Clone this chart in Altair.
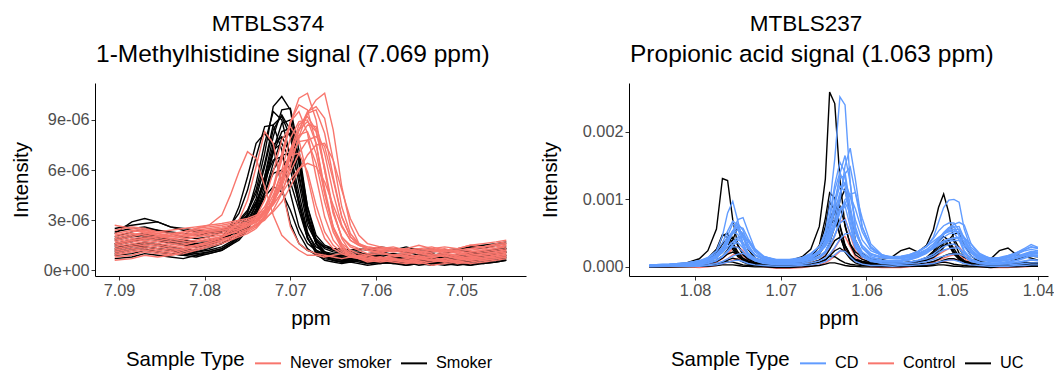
import altair as alt
import pandas as pd

FONT = "Liberation Sans"
RED = "#F8766D"
BLUE = "#619CFF"
BLACK = "#000000"

# ---------------- MTBLS374 : 1-Methylhistidine (intensity in units of 1e-6) ----------------
LEFT_UNIT = 1e-6
ppm_left = [7.0905, 7.0885, 7.0870, 7.0855, 7.0840, 7.0825, 7.0810, 7.0795, 7.0780, 7.0770,
            7.0760, 7.0750, 7.0740, 7.0730, 7.0720, 7.0710, 7.0700, 7.0690, 7.0680, 7.0670,
            7.0660, 7.0650, 7.0640, 7.0630, 7.0620, 7.0610, 7.0595, 7.0580, 7.0565, 7.0550,
            7.0535, 7.0520, 7.0505, 7.0490, 7.0475, 7.0460, 7.0448]

smoker_01 = [2.2, 2.9, 3.1, 2.9, 2.6, 2.4, 2.3, 2.2, 2.3, 2.6, 3.0, 3.6, 4.8, 7.0, 9.8, 10.4, 9.6, 6.5, 3.2, 1.9, 1.4, 1.2, 1.1, 1.0, 1.1, 0.9, 1.0, 1.2, 1.1, 0.9, 1.0, 0.8, 0.9, 1.0, 1.1, 1.3, 1.4]
smoker_02 = [1.6, 1.8, 2.0, 1.9, 1.7, 1.6, 1.5, 1.7, 2.0, 2.6, 3.8, 5.6, 7.6, 8.2, 7.4, 5.0, 2.8, 1.6, 1.2, 1.0, 0.9, 0.8, 0.8, 0.7, 0.9, 0.8, 0.7, 0.8, 0.6, 0.7, 0.8, 0.6, 0.7, 0.9, 0.8, 1.0, 1.1]
smoker_03 = [1.2, 1.4, 1.6, 1.5, 1.3, 1.2, 1.1, 1.3, 1.6, 1.9, 2.4, 3.4, 5.2, 7.6, 9.5, 9.0, 6.8, 3.9, 1.9, 1.2, 0.9, 0.7, 0.6, 0.6, 0.7, 0.5, 0.6, 0.7, 0.5, 0.6, 0.5, 0.4, 0.5, 0.6, 0.4, 0.5, 0.6]
smoker_04 = [2.5, 2.7, 2.8, 2.9, 2.6, 2.5, 2.4, 2.3, 2.4, 2.6, 2.9, 3.5, 4.6, 6.4, 8.7, 9.2, 8.0, 5.2, 2.7, 1.7, 1.4, 1.3, 1.3, 1.2, 1.3, 1.2, 1.4, 1.3, 1.2, 1.3, 1.1, 1.2, 1.3, 1.4, 1.3, 1.5, 1.6]
smoker_05 = [0.9, 1.0, 1.2, 1.1, 1.0, 0.9, 1.1, 1.2, 1.4, 1.7, 2.1, 2.8, 3.9, 5.6, 7.5, 8.0, 7.0, 4.6, 2.3, 1.2, 0.8, 0.6, 0.5, 0.5, 0.6, 0.4, 0.5, 0.4, 0.5, 0.3, 0.4, 0.5, 0.4, 0.3, 0.5, 0.6, 0.7]
smoker_06 = [1.8, 2.0, 2.1, 2.0, 1.8, 1.7, 1.6, 1.7, 1.9, 2.1, 2.4, 2.8, 3.5, 4.6, 6.0, 6.9, 7.0, 5.6, 3.2, 1.8, 1.3, 1.1, 1.0, 1.0, 0.9, 1.0, 1.1, 0.9, 1.0, 1.1, 0.9, 1.0, 1.2, 1.1, 1.0, 1.2, 1.3]
smoker_07 = [1.4, 1.5, 1.4, 1.3, 1.2, 1.0, 0.9, 1.1, 1.3, 1.6, 2.0, 2.6, 3.5, 4.7, 5.8, 6.0, 5.3, 3.6, 1.9, 1.1, 0.8, 0.7, 0.6, 0.7, 0.6, 0.5, 0.6, 0.5, 0.4, 0.5, 0.6, 0.5, 0.6, 0.5, 0.7, 0.8, 0.9]
smoker_08 = [2.0, 2.3, 2.5, 2.4, 2.2, 2.0, 1.9, 2.0, 2.3, 2.7, 3.4, 4.8, 6.8, 8.6, 8.7, 7.2, 4.6, 2.6, 1.6, 1.2, 1.0, 0.9, 0.9, 0.8, 1.0, 0.9, 0.8, 1.0, 0.9, 0.8, 0.9, 1.0, 0.8, 0.9, 1.1, 1.2, 1.3]
smoker_09 = [1.5, 1.7, 1.9, 1.8, 1.6, 1.5, 1.4, 1.5, 1.8, 2.1, 2.5, 3.0, 3.9, 5.6, 8.0, 9.6, 9.7, 7.2, 3.8, 1.8, 1.1, 0.8, 0.7, 0.7, 0.8, 0.7, 0.6, 0.8, 0.7, 0.6, 0.7, 0.8, 0.6, 0.7, 0.9, 1.0, 1.1]
smoker_10 = [1.0, 1.2, 1.3, 1.1, 1.0, 0.9, 0.8, 1.0, 1.2, 1.5, 1.8, 2.4, 3.3, 4.4, 5.0, 4.7, 3.6, 2.2, 1.3, 0.9, 0.7, 0.6, 0.5, 0.6, 0.5, 0.4, 0.5, 0.4, 0.3, 0.4, 0.5, 0.4, 0.3, 0.4, 0.5, 0.6, 0.8]
smoker_11 = [2.3, 2.5, 2.6, 2.4, 2.3, 2.2, 2.1, 2.2, 2.4, 2.6, 2.9, 3.3, 4.0, 5.2, 7.0, 8.3, 8.5, 6.8, 3.8, 2.1, 1.5, 1.3, 1.2, 1.1, 1.2, 1.3, 1.1, 1.2, 1.4, 1.2, 1.3, 1.1, 1.2, 1.4, 1.5, 1.6, 1.7]
smoker_12 = [0.7, 0.8, 1.0, 0.9, 0.8, 0.7, 0.9, 1.0, 1.2, 1.5, 1.9, 2.6, 3.7, 5.4, 7.2, 7.6, 6.6, 4.2, 2.0, 1.0, 0.6, 0.5, 0.4, 0.5, 0.4, 0.3, 0.4, 0.5, 0.3, 0.4, 0.3, 0.5, 0.4, 0.3, 0.4, 0.5, 0.6]
smoker_13 = [1.3, 1.5, 1.7, 1.6, 1.4, 1.3, 1.2, 1.4, 1.6, 1.9, 2.3, 2.8, 3.6, 5.0, 7.2, 8.8, 9.0, 6.6, 3.4, 1.6, 1.0, 0.8, 0.7, 0.6, 0.7, 0.6, 0.7, 0.5, 0.6, 0.7, 0.5, 0.6, 0.7, 0.8, 0.7, 0.8, 0.9]
smoker_14 = [1.9, 2.1, 2.2, 2.0, 1.9, 1.8, 1.7, 1.8, 2.0, 2.3, 2.7, 3.2, 4.1, 5.4, 6.6, 6.8, 6.0, 4.0, 2.2, 1.4, 1.1, 1.0, 0.9, 0.9, 1.0, 0.8, 0.9, 1.0, 0.8, 0.9, 1.0, 0.8, 0.9, 1.0, 1.1, 1.2, 1.3]
smoker_15 = [1.6, 1.8, 2.0, 1.9, 1.7, 1.6, 1.5, 1.6, 1.9, 2.2, 2.6, 3.2, 4.3, 6.2, 8.4, 9.3, 8.4, 5.8, 3.0, 1.6, 1.1, 0.9, 0.8, 0.8, 0.9, 0.8, 0.7, 0.8, 0.7, 0.8, 0.7, 0.6, 0.7, 0.8, 0.9, 1.0, 1.1]
smoker_16 = [1.1, 1.3, 1.4, 1.3, 1.2, 1.1, 1.0, 1.1, 1.3, 1.6, 2.0, 2.5, 3.3, 4.6, 6.4, 7.9, 8.2, 6.4, 3.4, 1.6, 0.9, 0.6, 0.5, 0.5, 0.6, 0.5, 0.4, 0.5, 0.4, 0.5, 0.4, 0.3, 0.4, 0.5, 0.6, 0.7, 0.8]

never_01 = [1.9, 2.1, 2.3, 2.2, 2.0, 2.1, 2.3, 2.4, 2.5, 2.6, 2.7, 2.9, 3.2, 3.8, 4.9, 6.6, 8.8, 10.3, 10.6, 9.0, 6.0, 3.4, 2.0, 1.5, 1.3, 1.2, 1.1, 1.2, 1.0, 1.1, 1.2, 1.0, 0.9, 1.1, 1.2, 1.3, 1.4]
never_02 = [1.5, 1.7, 1.8, 1.7, 1.6, 1.7, 1.8, 2.0, 2.1, 2.2, 2.3, 2.5, 2.7, 3.0, 3.6, 4.6, 6.2, 8.0, 9.4, 10.2, 10.6, 8.4, 5.0, 2.7, 1.6, 1.2, 1.0, 0.9, 1.0, 0.8, 0.9, 1.0, 0.8, 0.9, 1.0, 1.1, 1.2]
never_03 = [1.2, 1.4, 1.5, 1.4, 1.3, 1.4, 1.5, 1.7, 1.9, 2.0, 2.2, 2.4, 2.8, 3.6, 5.0, 7.0, 8.9, 9.5, 8.2, 5.6, 3.2, 1.8, 1.2, 0.9, 0.8, 0.7, 0.8, 0.6, 0.7, 0.8, 0.6, 0.7, 0.8, 0.6, 0.7, 0.8, 0.9]
never_04 = [2.4, 2.6, 2.5, 2.3, 2.2, 2.3, 2.5, 2.6, 2.7, 2.8, 2.9, 3.0, 3.2, 3.5, 4.1, 5.0, 6.4, 7.9, 8.7, 8.6, 7.0, 4.6, 2.7, 1.8, 1.5, 1.4, 1.3, 1.4, 1.2, 1.3, 1.4, 1.2, 1.3, 1.5, 1.4, 1.6, 1.7]
never_05 = [0.8, 0.9, 1.1, 1.0, 0.9, 1.0, 1.2, 1.4, 1.6, 1.8, 2.0, 2.2, 2.5, 3.1, 4.0, 5.3, 6.8, 7.7, 7.8, 6.4, 4.1, 2.3, 1.3, 0.9, 0.7, 0.6, 0.5, 0.6, 0.5, 0.4, 0.5, 0.6, 0.4, 0.5, 0.6, 0.7, 0.8]
never_06 = [1.8, 2.0, 2.2, 2.1, 1.9, 2.0, 2.1, 2.3, 2.4, 2.5, 2.6, 2.8, 3.0, 3.4, 4.1, 5.2, 6.8, 8.4, 9.5, 9.8, 9.1, 6.6, 3.8, 2.2, 1.6, 1.3, 1.2, 1.1, 1.2, 1.0, 1.1, 1.2, 1.0, 1.1, 1.2, 1.3, 1.5]
never_07 = [1.4, 1.6, 1.7, 1.6, 1.5, 1.6, 1.7, 1.9, 2.0, 2.2, 2.4, 2.6, 2.9, 3.5, 4.5, 5.9, 6.9, 7.0, 5.9, 3.9, 2.3, 1.5, 1.1, 0.9, 0.8, 0.9, 0.7, 0.8, 0.9, 0.7, 0.8, 0.9, 0.7, 0.8, 0.9, 1.0, 1.1]
never_08 = [1.6, 1.8, 1.9, 2.0, 2.1, 2.3, 2.5, 2.7, 3.3, 4.5, 5.9, 7.1, 6.7, 5.0, 3.3, 2.1, 1.6, 1.2, 0.9, 0.9, 0.8, 0.9, 1.0, 0.8, 0.9, 0.8, 0.7, 0.9, 0.8, 0.7, 0.8, 0.9, 0.7, 0.8, 0.9, 1.0, 1.1]
never_09 = [1.1, 1.3, 1.4, 1.3, 1.2, 1.3, 1.5, 1.7, 2.0, 2.4, 3.0, 4.2, 6.2, 8.3, 7.6, 5.0, 2.6, 1.6, 1.2, 1.0, 0.9, 0.8, 0.7, 0.8, 0.7, 0.6, 0.7, 0.6, 0.5, 0.7, 0.6, 0.5, 0.6, 0.7, 0.6, 0.7, 0.8]
never_10 = [2.7, 2.5, 2.4, 2.3, 2.4, 2.5, 2.6, 2.7, 2.8, 2.9, 3.0, 3.1, 3.3, 3.6, 4.0, 4.6, 5.4, 6.1, 6.4, 6.2, 5.3, 3.9, 2.6, 1.8, 1.5, 1.3, 1.4, 1.2, 1.3, 1.5, 1.3, 1.4, 1.3, 1.5, 1.6, 1.7, 1.8]
never_11 = [0.6, 0.7, 0.9, 0.8, 0.9, 1.1, 1.3, 1.5, 1.7, 1.9, 2.1, 2.3, 2.6, 3.2, 4.3, 6.0, 7.9, 8.9, 9.0, 7.6, 4.9, 2.6, 1.4, 0.9, 0.7, 0.5, 0.6, 0.5, 0.4, 0.5, 0.3, 0.4, 0.5, 0.4, 0.5, 0.6, 0.7]
never_12 = [2.1, 2.3, 2.4, 2.2, 2.1, 2.2, 2.4, 2.5, 2.6, 2.7, 2.8, 2.9, 3.1, 3.4, 3.9, 4.7, 5.9, 7.0, 7.8, 8.0, 7.4, 5.4, 3.2, 2.0, 1.5, 1.3, 1.2, 1.3, 1.1, 1.2, 1.3, 1.1, 1.2, 1.3, 1.4, 1.5, 1.6]
never_13 = [1.3, 1.5, 1.6, 1.5, 1.4, 1.5, 1.7, 1.8, 2.0, 2.2, 2.4, 2.7, 3.2, 4.2, 5.9, 7.8, 8.6, 7.8, 5.6, 3.3, 1.9, 1.3, 1.0, 0.9, 0.8, 0.7, 0.8, 0.7, 0.6, 0.7, 0.8, 0.6, 0.7, 0.8, 0.7, 0.9, 1.0]
never_14 = [1.7, 1.9, 2.0, 1.9, 1.8, 1.9, 2.0, 2.2, 2.3, 2.4, 2.5, 2.7, 2.9, 3.3, 4.1, 5.4, 7.2, 8.7, 9.2, 8.4, 6.0, 3.5, 2.0, 1.4, 1.2, 1.0, 1.1, 0.9, 1.0, 1.1, 0.9, 1.0, 1.1, 0.9, 1.0, 1.1, 1.2]
never_15 = [2.2, 2.4, 2.3, 2.1, 2.0, 2.1, 2.2, 2.4, 2.5, 2.6, 2.7, 2.8, 3.0, 3.4, 4.1, 5.2, 6.8, 8.4, 9.4, 9.6, 8.2, 5.6, 3.2, 2.0, 1.6, 1.4, 1.3, 1.2, 1.3, 1.1, 1.2, 1.3, 1.1, 1.2, 1.3, 1.4, 1.5]
never_16 = [1.0, 1.2, 1.3, 1.2, 1.1, 1.3, 1.5, 1.6, 1.8, 2.0, 2.2, 2.4, 2.7, 3.2, 4.2, 5.6, 7.2, 8.1, 8.3, 7.0, 4.6, 2.5, 1.5, 1.0, 0.8, 0.7, 0.6, 0.7, 0.6, 0.5, 0.6, 0.7, 0.5, 0.6, 0.7, 0.8, 0.9]
never_17 = [1.6, 1.8, 1.9, 1.8, 1.7, 1.8, 2.0, 2.1, 2.2, 2.3, 2.5, 2.7, 3.0, 3.6, 4.8, 6.8, 8.9, 9.9, 9.6, 7.6, 4.6, 2.6, 1.6, 1.2, 1.0, 0.9, 1.0, 0.9, 0.8, 0.9, 1.0, 0.8, 0.9, 1.0, 1.1, 1.2, 1.3]
never_18 = [2.0, 2.2, 2.1, 2.0, 1.9, 2.0, 2.2, 2.3, 2.4, 2.5, 2.6, 2.7, 2.9, 3.1, 3.5, 4.1, 5.0, 6.0, 6.9, 7.5, 7.6, 6.6, 4.8, 3.1, 2.1, 1.6, 1.4, 1.3, 1.2, 1.3, 1.2, 1.1, 1.2, 1.3, 1.4, 1.5, 1.6]
never_19 = [0.9, 1.1, 1.2, 1.1, 1.0, 1.2, 1.4, 1.6, 1.8, 2.0, 2.2, 2.4, 2.7, 3.2, 4.0, 5.3, 7.0, 8.4, 8.9, 8.3, 6.2, 3.6, 1.9, 1.1, 0.8, 0.7, 0.6, 0.7, 0.5, 0.6, 0.7, 0.5, 0.6, 0.7, 0.8, 0.9, 1.0]

# ---------------- MTBLS237 : Propionic acid (intensity in units of 1e-4) ----------------
RIGHT_UNIT = 1e-4
ppm_right = [1.0853, 1.0830, 1.0810, 1.0795, 1.0785, 1.0775, 1.0768, 1.0762, 1.0756, 1.0750,
             1.0744, 1.0738, 1.0730, 1.0720, 1.0705, 1.0690, 1.0675, 1.0665, 1.0655, 1.0648,
             1.0643, 1.0637, 1.0631, 1.0625, 1.0619, 1.0613, 1.0605, 1.0595, 1.0582, 1.0570,
             1.0560, 1.0550, 1.0540, 1.0530, 1.0522, 1.0516, 1.0510, 1.0504, 1.0498, 1.0492,
             1.0486, 1.0478, 1.0468, 1.0455, 1.0445, 1.0435, 1.0425, 1.0415, 1.0408, 1.0400]

uc_01 = [0.1, 0.3, 0.6, 1.2, 2.4, 5.6, 13.1, 12.8, 7.0, 3.2, 1.9, 1.3, 0.9, 0.7, 0.7, 0.9, 1.5, 2.6, 6.0, 13.0, 25.9, 24.2, 13.0, 6.0, 3.4, 2.2, 1.5, 1.2, 1.1, 1.5, 2.4, 2.8, 2.2, 3.2, 5.5, 8.8, 10.8, 8.0, 3.8, 2.0, 1.4, 1.1, 0.9, 1.2, 2.4, 2.8, 1.8, 1.5, 1.6, 1.5]
uc_02 = [0.1, 0.2, 0.3, 0.6, 1.0, 2.2, 4.6, 5.0, 3.4, 1.8, 1.1, 0.8, 0.6, 0.5, 0.5, 0.6, 0.9, 1.5, 3.2, 7.2, 11.0, 10.2, 6.0, 3.0, 1.7, 1.1, 0.8, 0.6, 0.5, 0.5, 0.6, 0.7, 0.9, 1.4, 2.3, 3.8, 4.5, 3.9, 2.3, 1.3, 0.8, 0.6, 0.4, 0.4, 0.4, 0.5, 0.5, 0.5, 0.6, 0.6]
uc_03 = [0.1, 0.1, 0.3, 0.5, 0.8, 1.4, 2.4, 3.8, 4.4, 3.2, 1.8, 1.1, 0.7, 0.5, 0.4, 0.5, 0.7, 1.1, 1.9, 3.3, 5.6, 8.2, 9.0, 6.2, 3.3, 1.8, 1.1, 0.7, 0.5, 0.5, 0.5, 0.6, 0.7, 1.0, 1.5, 2.4, 3.5, 4.1, 4.2, 2.8, 1.5, 0.9, 0.6, 0.4, 0.4, 0.4, 0.5, 0.6, 0.6, 0.6]
uc_04 = [0.1, 0.1, 0.2, 0.4, 0.6, 1.0, 1.6, 2.5, 4.0, 5.9, 4.6, 2.6, 1.3, 0.8, 0.5, 0.5, 0.6, 0.9, 1.4, 2.2, 3.6, 6.0, 9.8, 11.5, 8.0, 4.0, 2.0, 1.1, 0.7, 0.6, 0.6, 0.7, 0.8, 1.0, 1.4, 2.0, 2.9, 4.0, 4.9, 5.0, 3.2, 1.6, 0.8, 0.5, 0.4, 0.4, 0.4, 0.5, 0.5, 0.5]
uc_05 = [0.0, 0.1, 0.1, 0.2, 0.3, 0.5, 0.7, 0.8, 0.7, 0.5, 0.3, 0.2, 0.2, 0.1, 0.1, 0.2, 0.3, 0.4, 0.7, 1.1, 1.6, 1.5, 1.0, 0.6, 0.4, 0.3, 0.2, 0.2, 0.1, 0.1, 0.2, 0.2, 0.2, 0.3, 0.4, 0.6, 0.7, 0.6, 0.4, 0.3, 0.2, 0.1, 0.1, 0.1, 0.1, 0.1, 0.1, 0.1, 0.2, 0.2]
uc_06 = [0.1, 0.2, 0.3, 0.5, 0.9, 1.7, 2.8, 3.5, 2.9, 1.7, 1.0, 0.7, 0.5, 0.4, 0.4, 0.5, 0.7, 1.2, 2.2, 4.0, 6.2, 7.0, 4.8, 2.4, 1.4, 0.9, 0.6, 0.5, 0.4, 0.4, 0.5, 0.5, 0.7, 1.0, 1.6, 2.5, 3.2, 3.3, 2.2, 1.2, 0.7, 0.5, 0.3, 0.3, 0.3, 0.3, 0.4, 0.4, 0.4, 0.4]
uc_07 = [0.0, 0.0, 0.0, 0.1, 0.1, 0.2, 0.3, 0.3, 0.3, 0.2, 0.1, 0.1, 0.0, 0.0, -0.1, -0.1, 0.0, 0.1, 0.2, 0.4, 0.6, 0.6, 0.4, 0.2, 0.1, 0.1, 0.0, 0.0, 0.0, 0.0, 0.0, 0.1, 0.1, 0.1, 0.2, 0.3, 0.3, 0.2, 0.1, 0.1, 0.0, 0.0, 0.0, -0.1, 0.0, 0.0, 0.0, 0.1, 0.1, 0.1]
uc_08 = [0.1, 0.2, 0.4, 0.7, 1.3, 2.6, 4.8, 4.3, 2.6, 1.5, 1.0, 0.7, 0.5, 0.4, 0.4, 0.5, 0.8, 1.4, 3.0, 6.0, 9.6, 8.4, 4.6, 2.4, 1.4, 1.0, 0.7, 0.6, 0.5, 0.5, 0.6, 0.7, 0.9, 1.3, 2.1, 3.3, 4.0, 3.2, 1.9, 1.1, 0.7, 0.5, 0.4, 0.4, 0.5, 0.7, 1.1, 1.5, 1.3, 1.0]
uc_09 = [0.0, 0.1, 0.2, 0.3, 0.5, 0.8, 1.3, 1.9, 2.2, 1.8, 1.1, 0.7, 0.4, 0.3, 0.2, 0.3, 0.4, 0.6, 1.0, 1.6, 2.6, 3.9, 4.4, 3.2, 1.8, 1.0, 0.6, 0.4, 0.3, 0.3, 0.3, 0.4, 0.4, 0.6, 0.8, 1.1, 1.6, 1.9, 2.0, 1.5, 0.9, 0.5, 0.3, 0.2, 0.2, 0.2, 0.3, 0.3, 0.3, 0.3]
uc_10 = [0.1, 0.2, 0.4, 0.6, 1.1, 2.0, 3.4, 4.2, 3.6, 2.2, 1.3, 0.9, 0.6, 0.5, 0.4, 0.5, 0.7, 1.2, 2.3, 4.4, 7.2, 8.6, 6.2, 3.2, 1.8, 1.1, 0.8, 0.6, 0.5, 0.5, 0.5, 0.6, 0.8, 1.1, 1.8, 2.9, 3.7, 3.9, 2.7, 1.5, 0.9, 0.6, 0.4, 0.4, 0.4, 0.5, 0.6, 0.6, 0.6, 0.6]
uc_11 = [0.0, 0.0, 0.1, 0.1, 0.2, 0.4, 0.7, 1.0, 1.3, 1.1, 0.7, 0.4, 0.2, 0.1, 0.1, 0.1, 0.2, 0.3, 0.6, 1.0, 1.6, 2.4, 2.8, 2.2, 1.2, 0.6, 0.3, 0.2, 0.1, 0.1, 0.1, 0.2, 0.2, 0.3, 0.5, 0.7, 1.0, 1.2, 1.2, 0.9, 0.5, 0.3, 0.1, 0.1, 0.1, 0.1, 0.1, 0.1, 0.2, 0.2]

cd_01 = [0.2, 0.3, 0.5, 0.8, 1.3, 2.4, 4.6, 8.0, 9.7, 6.8, 3.4, 2.0, 1.3, 0.9, 0.8, 0.9, 1.2, 1.8, 3.0, 5.2, 9.0, 16.0, 25.2, 24.0, 12.5, 5.6, 2.8, 1.7, 1.3, 1.3, 1.4, 1.7, 2.2, 3.0, 4.4, 6.6, 8.8, 9.9, 10.0, 9.6, 5.6, 2.6, 1.5, 1.2, 1.3, 1.6, 2.1, 2.8, 3.3, 2.9]
cd_02 = [0.2, 0.3, 0.4, 0.6, 0.9, 1.4, 2.2, 3.4, 5.2, 7.0, 7.3, 5.2, 2.6, 1.4, 0.9, 0.8, 1.0, 1.4, 2.1, 3.0, 4.2, 6.2, 9.8, 15.0, 17.6, 13.0, 6.0, 2.8, 1.6, 1.3, 1.3, 1.5, 1.9, 2.5, 3.4, 4.3, 5.0, 5.8, 6.3, 6.6, 6.2, 3.4, 1.7, 1.2, 1.2, 1.4, 1.8, 2.6, 3.0, 2.8]
cd_03 = [0.1, 0.2, 0.3, 0.5, 0.8, 1.3, 2.2, 3.5, 5.3, 6.4, 5.4, 3.3, 1.7, 1.0, 0.7, 0.7, 0.9, 1.3, 2.1, 3.3, 5.2, 8.8, 13.8, 16.5, 12.5, 6.0, 2.8, 1.5, 1.0, 0.9, 1.0, 1.2, 1.6, 2.2, 3.0, 4.0, 4.8, 5.6, 5.9, 6.0, 4.2, 2.0, 1.1, 0.8, 0.8, 1.0, 1.3, 1.8, 2.2, 2.0]
cd_04 = [0.1, 0.2, 0.3, 0.5, 0.8, 1.4, 2.4, 3.9, 5.2, 4.8, 3.0, 1.8, 1.1, 0.7, 0.6, 0.6, 0.8, 1.2, 2.0, 3.4, 5.8, 9.8, 13.2, 13.5, 8.0, 3.8, 1.9, 1.1, 0.8, 0.7, 0.8, 1.0, 1.4, 2.0, 2.8, 3.7, 4.4, 4.9, 5.0, 4.0, 2.2, 1.1, 0.7, 0.5, 0.6, 0.7, 0.9, 1.3, 1.6, 1.5]
cd_05 = [0.2, 0.3, 0.5, 0.7, 1.0, 1.6, 2.5, 3.6, 5.0, 6.0, 5.7, 4.2, 2.5, 1.5, 1.0, 0.9, 1.1, 1.5, 2.3, 3.3, 4.8, 7.2, 10.6, 13.8, 14.8, 11.0, 5.8, 3.0, 1.8, 1.4, 1.4, 1.6, 2.0, 2.6, 3.4, 4.2, 4.9, 5.4, 5.6, 5.5, 4.2, 2.4, 1.4, 1.1, 1.1, 1.3, 1.6, 2.0, 2.3, 2.2]
cd_06 = [0.1, 0.1, 0.2, 0.3, 0.5, 0.9, 1.5, 2.4, 3.3, 3.6, 2.8, 1.7, 1.0, 0.6, 0.4, 0.4, 0.6, 0.9, 1.4, 2.3, 3.7, 6.0, 8.4, 9.0, 6.0, 3.0, 1.5, 0.8, 0.6, 0.5, 0.6, 0.7, 1.0, 1.4, 1.9, 2.5, 3.0, 3.3, 3.4, 2.8, 1.6, 0.8, 0.5, 0.4, 0.4, 0.5, 0.6, 0.8, 1.0, 0.9]
cd_07 = [0.1, 0.1, 0.1, 0.2, 0.3, 0.5, 0.8, 1.2, 1.6, 1.9, 2.0, 1.5, 0.9, 0.5, 0.3, 0.3, 0.4, 0.6, 0.9, 1.3, 1.9, 2.9, 4.1, 4.9, 5.0, 3.6, 1.8, 0.9, 0.5, 0.4, 0.4, 0.5, 0.6, 0.8, 1.1, 1.4, 1.6, 1.8, 1.9, 1.9, 1.6, 0.9, 0.5, 0.3, 0.3, 0.3, 0.4, 0.5, 0.6, 0.6]
cd_08 = [0.1, 0.2, 0.3, 0.4, 0.6, 1.0, 1.5, 2.2, 3.2, 4.1, 4.4, 3.8, 2.2, 1.2, 0.8, 0.7, 0.8, 1.1, 1.6, 2.3, 3.2, 4.6, 6.8, 9.4, 10.8, 11.0, 7.2, 3.4, 1.8, 1.3, 1.3, 1.5, 1.8, 2.3, 2.9, 3.4, 3.8, 4.1, 4.3, 4.4, 3.8, 2.2, 1.2, 0.9, 0.9, 1.0, 1.3, 1.7, 2.0, 1.9]
cd_09 = [0.0, 0.1, 0.1, 0.1, 0.2, 0.3, 0.5, 0.7, 0.9, 1.0, 0.8, 0.5, 0.3, 0.2, 0.1, 0.1, 0.2, 0.3, 0.5, 0.8, 1.2, 1.8, 2.4, 2.3, 1.5, 0.8, 0.4, 0.2, 0.2, 0.1, 0.2, 0.2, 0.3, 0.4, 0.5, 0.7, 0.9, 1.0, 1.0, 0.8, 0.5, 0.3, 0.2, 0.1, 0.1, 0.1, 0.2, 0.2, 0.3, 0.3]
cd_10 = [0.1, 0.2, 0.3, 0.5, 0.9, 1.6, 2.8, 4.6, 6.4, 5.6, 3.4, 2.0, 1.2, 0.8, 0.7, 0.7, 0.9, 1.4, 2.4, 4.0, 7.0, 11.4, 14.0, 12.0, 6.6, 3.2, 1.7, 1.0, 0.8, 0.8, 0.9, 1.1, 1.5, 2.1, 3.0, 4.1, 5.1, 5.8, 6.0, 4.6, 2.4, 1.2, 0.7, 0.6, 0.6, 0.8, 1.0, 1.4, 1.8, 1.7]
cd_11 = [0.3, 0.4, 0.6, 0.9, 1.3, 2.0, 2.9, 3.9, 4.9, 5.5, 5.0, 3.8, 2.4, 1.5, 1.1, 1.1, 1.4, 2.0, 3.0, 4.3, 5.8, 8.2, 11.0, 12.5, 10.5, 7.0, 4.0, 2.4, 1.7, 1.5, 1.6, 1.8, 2.3, 3.0, 3.8, 4.4, 4.9, 5.2, 5.2, 5.2, 4.4, 2.9, 1.8, 1.3, 1.3, 1.5, 1.9, 2.4, 2.6, 2.4]
cd_12 = [0.2, 0.3, 0.5, 0.7, 1.0, 1.5, 2.1, 2.9, 3.7, 4.4, 4.6, 4.0, 2.7, 1.6, 1.0, 0.9, 1.1, 1.5, 2.2, 3.1, 4.1, 5.8, 8.0, 10.0, 10.5, 8.6, 5.2, 2.8, 1.7, 1.3, 1.3, 1.5, 1.8, 2.3, 2.9, 3.4, 3.8, 4.1, 4.2, 4.3, 4.3, 3.4, 2.0, 1.2, 1.0, 1.1, 1.4, 1.8, 2.1, 2.0]
cd_13 = [0.3, 0.4, 0.6, 0.9, 1.4, 2.3, 3.6, 5.3, 6.8, 6.2, 4.3, 2.7, 1.7, 1.2, 1.0, 1.0, 1.3, 1.9, 3.0, 4.8, 7.6, 12.2, 15.5, 14.0, 9.0, 5.0, 2.9, 1.9, 1.5, 1.4, 1.5, 1.8, 2.3, 3.1, 4.2, 5.3, 6.1, 6.5, 6.5, 5.4, 3.5, 2.1, 1.5, 1.3, 1.4, 1.7, 2.1, 2.6, 2.9, 2.7]
cd_14 = [0.1, 0.2, 0.3, 0.4, 0.6, 1.0, 1.6, 2.3, 3.0, 2.9, 2.2, 1.4, 0.9, 0.6, 0.5, 0.5, 0.6, 0.9, 1.3, 2.0, 3.0, 4.8, 6.5, 7.0, 5.0, 2.8, 1.5, 0.9, 0.6, 0.6, 0.6, 0.7, 0.9, 1.2, 1.6, 2.1, 2.5, 2.7, 2.8, 2.8, 2.0, 1.1, 0.6, 0.5, 0.5, 0.6, 0.7, 0.9, 1.1, 1.0]
cd_15 = [0.2, 0.3, 0.5, 0.7, 1.1, 1.8, 2.9, 4.2, 5.4, 5.8, 4.6, 3.0, 1.8, 1.1, 0.8, 0.8, 1.0, 1.5, 2.4, 3.8, 6.0, 9.4, 12.0, 11.2, 7.4, 4.0, 2.2, 1.3, 1.0, 0.9, 1.0, 1.2, 1.6, 2.2, 3.1, 4.1, 4.9, 5.4, 5.5, 4.8, 3.0, 1.6, 1.0, 0.8, 0.9, 1.1, 1.4, 1.9, 2.2, 2.1]
cd_16 = [0.3, 0.4, 0.6, 0.8, 1.1, 1.6, 2.3, 3.0, 3.7, 4.0, 3.6, 2.7, 1.8, 1.2, 0.9, 0.9, 1.1, 1.6, 2.3, 3.2, 4.5, 6.5, 8.6, 9.5, 8.0, 5.4, 3.2, 2.0, 1.4, 1.2, 1.2, 1.4, 1.7, 2.1, 2.7, 3.2, 3.6, 3.8, 3.9, 3.9, 3.2, 2.1, 1.3, 1.0, 1.0, 1.1, 1.3, 1.6, 1.8, 1.7]

control_01 = [0.0, 0.1, 0.1, 0.2, 0.4, 0.7, 1.2, 1.9, 2.7, 3.0, 2.4, 1.4, 0.8, 0.4, 0.2, 0.2, 0.3, 0.6, 1.0, 1.7, 2.8, 4.6, 6.6, 7.2, 4.8, 2.4, 1.2, 0.6, 0.3, 0.3, 0.3, 0.4, 0.6, 0.9, 1.3, 1.8, 2.3, 2.7, 2.9, 3.0, 2.0, 1.0, 0.5, 0.3, 0.2, 0.2, 0.3, 0.4, 0.5, 0.5]
control_02 = [0.0, 0.0, 0.1, 0.1, 0.2, 0.4, 0.7, 1.2, 1.8, 2.1, 1.7, 1.0, 0.5, 0.2, 0.1, 0.0, 0.1, 0.3, 0.6, 1.0, 1.7, 2.8, 4.0, 4.5, 3.0, 1.5, 0.7, 0.3, 0.1, 0.1, 0.1, 0.2, 0.3, 0.5, 0.7, 1.0, 1.3, 1.6, 1.8, 1.8, 1.2, 0.6, 0.3, 0.1, 0.1, 0.1, 0.1, 0.2, 0.2, 0.2]
control_03 = [0.0, 0.0, 0.0, -0.1, 0.0, 0.2, 0.4, 0.7, 1.0, 1.2, 1.0, 0.6, 0.2, 0.0, -0.2, -0.2, -0.1, 0.1, 0.3, 0.6, 1.0, 1.6, 2.3, 2.6, 1.8, 0.9, 0.3, 0.0, -0.1, -0.1, -0.1, 0.0, 0.1, 0.2, 0.4, 0.6, 0.8, 1.0, 1.1, 1.1, 0.7, 0.3, 0.0, -0.1, -0.1, -0.1, 0.0, 0.0, 0.1, 0.1]

left_groups = [
    ("Smoker", [smoker_01, smoker_02, smoker_03, smoker_04, smoker_05, smoker_06, smoker_07, smoker_08,
                smoker_09, smoker_10, smoker_11, smoker_12, smoker_13, smoker_14, smoker_15, smoker_16]),
    ("Never smoker", [never_01, never_02, never_03, never_04, never_05, never_06, never_07, never_08,
                      never_09, never_10, never_11, never_12, never_13, never_14, never_15, never_16,
                      never_17, never_18, never_19]),
]
right_groups = [
    ("Control", [control_01, control_02, control_03]),
    ("UC", [uc_01, uc_02, uc_03, uc_04, uc_05, uc_06, uc_07, uc_08, uc_09, uc_10, uc_11]),
    ("CD", [cd_01, cd_02, cd_03, cd_04, cd_05, cd_06, cd_07, cd_08, cd_09, cd_10, cd_11, cd_12,
            cd_13, cd_14, cd_15, cd_16]),
]


def to_long(grid, groups, unit):
    rows = []
    for gname, curves in groups:
        for i, curve in enumerate(curves):
            assert len(curve) == len(grid), (gname, i, len(curve))
            for p, v in zip(grid, curve):
                rows.append({"ppm": p, "intensity": v * unit,
                             "sample": f"{gname} {i + 1}", "type": gname})
    return pd.DataFrame(rows)


left_df = to_long(ppm_left, left_groups, LEFT_UNIT)
right_df = to_long(ppm_right, right_groups, RIGHT_UNIT)

TICK_FS = 16.3
TITLE_FS = 20.4

AXIS_STYLE = dict(
    grid=False, domainColor="black", domainWidth=1, tickColor="#333333", tickWidth=1,
    tickSize=4, labelPadding=2, labelFont=FONT, labelFontSize=TICK_FS, labelColor="#4D4D4D",
    titleFont=FONT, titleFontSize=TITLE_FS, titleFontWeight="normal", titleColor="black",
    labelFlush=False, labelOverlap=False,
)


def panel(df, draw_order, cdomain, crange, xdomain, xvalues, ydomain, yvalues, yaxis_extra,
          ytitle_pad, width, height, top_line, sub_line, top_x, legend_x, legend_y):
    legend = alt.Legend(
        orient="none", legendX=legend_x, legendY=legend_y, direction="horizontal",
        title="Sample Type", titleOrient="left", titleAnchor="middle", titleBaseline="middle",
        titleFont=FONT, titleFontSize=TITLE_FS,
        titleFontWeight="normal", titleColor="black", titlePadding=8,
        labelFont=FONT, labelFontSize=TICK_FS, labelColor="black", labelOffset=8,
        symbolType="stroke", symbolSize=676, symbolStrokeWidth=2, columnPadding=5,
    )
    color = alt.Color("type:N", scale=alt.Scale(domain=cdomain, range=crange), legend=legend)
    x = alt.X("ppm:Q",
              scale=alt.Scale(domain=xdomain, reverse=True, nice=False, zero=False),
              axis=alt.Axis(values=xvalues, format=".2f", title="ppm", titlePadding=10, **AXIS_STYLE))
    y = alt.Y("intensity:Q",
              scale=alt.Scale(domain=ydomain, nice=False, zero=False),
              axis=alt.Axis(values=yvalues, title="Intensity", titlePadding=ytitle_pad,
                            **yaxis_extra, **AXIS_STYLE))
    base = alt.Chart(df)
    layers = []
    for g in draw_order:
        layers.append(
            base.transform_filter(alt.datum.type == g)
            .mark_line(strokeWidth=1.4, clip=True)
            .encode(x=x, y=y, color=color, detail="sample:N")
        )
    t1 = alt.Chart(pd.DataFrame({"label": [top_line]})).mark_text(
        font=FONT, fontSize=22.5, align="center", baseline="alphabetic", color="black"
    ).encode(text="label:N", x=alt.value(top_x), y=alt.value(-52))
    t2 = alt.Chart(pd.DataFrame({"label": [sub_line]})).mark_text(
        font=FONT, fontSize=24.5, align="left", baseline="alphabetic", color="black"
    ).encode(text="label:N", x=alt.value(1), y=alt.value(-21))
    return alt.layer(*layers, t1, t2).properties(width=width, height=height)


left = panel(
    left_df, ["Smoker", "Never smoker"], ["Never smoker", "Smoker"], [RED, BLACK],
    [7.0425, 7.0928], [7.09, 7.08, 7.07, 7.06, 7.05],
    [-0.34e-6, 11.21e-6], [0, 3e-6, 6e-6, 9e-6],
    {"labelExpr": "datum.value == 0 ? '0e+00' : format(datum.value * 1000000, '.0f') + 'e-06'"},
    12, 431, 193, "MTBLS374", "1-Methylhistidine signal (7.069 ppm)", 173, 31, 266,
)
right = panel(
    right_df, ["Control", "UC", "CD"], ["CD", "Control", "UC"], [BLUE, RED, BLACK],
    [1.03883, 1.08770], [1.08, 1.07, 1.06, 1.05, 1.04],
    [-0.000135, 0.002725], [0, 0.001, 0.002],
    {"format": ".3f"},
    22, 419, 193, "MTBLS237", "Propionic acid signal (1.063 ppm)", 177, 42, 266,
)

chart = (
    alt.hconcat(left, right, spacing=14)
    .resolve_scale(color="independent")
    .properties(padding={"left": 3, "top": 5, "right": 0, "bottom": 0}, background="white")
    .configure_view(strokeWidth=0)
)

chart.save("out.html", embed_options={"renderer": "svg", "actions": False})
